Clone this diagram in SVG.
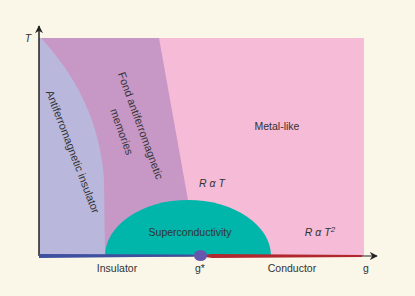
<svg xmlns="http://www.w3.org/2000/svg" width="415" height="296" viewBox="0 0 415 296">
<defs>
<style>
text{font-family:"Liberation Sans",Arial,sans-serif;font-size:10.5px;fill:#333}
.it{font-style:italic}
.rot{font-size:11px}
</style>
<marker id="arr" viewBox="0 0 10 10" refX="9" refY="5" markerWidth="8" markerHeight="8" markerUnits="userSpaceOnUse" orient="auto">
<path d="M0,0 L10,5 L0,10 L3,5 Z" fill="#222"/>
</marker>
</defs>
<rect width="415" height="296" fill="#FAF6E8"/>
<g id="metal-like">
<rect x="39" y="38" width="325" height="218" fill="#F6BBD6"/>
<text x="277" y="130" text-anchor="middle">Metal-like</text>
</g>
<g id="fond-antiferromagnetic">
<path d="M39,38 L159,38 L198,256 L39,256 Z" fill="#C797C6"/>
<text class="rot" transform="translate(137,127) rotate(70)" text-anchor="middle">Fond antiferromagnetic</text>
<text class="rot" transform="translate(121,132) rotate(70)" text-anchor="middle" dy="3">memories</text>
</g>
<g id="antiferromagnetic-insulator">
<path d="M39,38 L41,38 C75,75 100,120 104,180 L105,256 L39,256 Z" fill="#B9B8DC"/>
<text class="rot" transform="translate(72,152) rotate(69)" text-anchor="middle" dy="3">Antiferromagnetic insulator</text>
</g>
<g id="superconductivity">
<path d="M105,256 A83,56 0 0 1 271,256 Z" fill="#00B5AA"/>
<text x="190" y="236" text-anchor="middle">Superconductivity</text>
</g>
<g id="labels">
<text class="it" x="212" y="187" text-anchor="middle">R α T</text>
<text class="it" x="320" y="236" text-anchor="middle">R α T<tspan dy="-4" font-size="8">2</tspan></text>
<text class="it" x="28" y="42" text-anchor="middle">T</text>
<text x="117" y="272" text-anchor="middle">Insulator</text>
<text x="200" y="272" text-anchor="middle">g*</text>
<text x="292" y="272" text-anchor="middle">Conductor</text>
<text x="366" y="272" text-anchor="middle">g</text>
</g>
<g id="connectors">
<line x1="39" y1="256" x2="39" y2="26" stroke="#222" stroke-width="1.5" marker-end="url(#arr)"/>
<line x1="39" y1="256" x2="377" y2="256" stroke="#222" stroke-width="1" marker-end="url(#arr)"/>
<path d="M39,254 L190,254.5 Q197,255 200,255.5 Q197,256 190,256.5 L39,258 Z" fill="#3E4FA0"/>
<path d="M200,255.5 Q205,254.5 212,254 L362,255 L362,257 L212,258 Q205,257 200,255.5 Z" fill="#B0282E"/>
</g>
<g id="g-star">
<ellipse cx="200.5" cy="255.5" rx="6.5" ry="5.5" fill="#6656AE"/>
</g>
</svg>
